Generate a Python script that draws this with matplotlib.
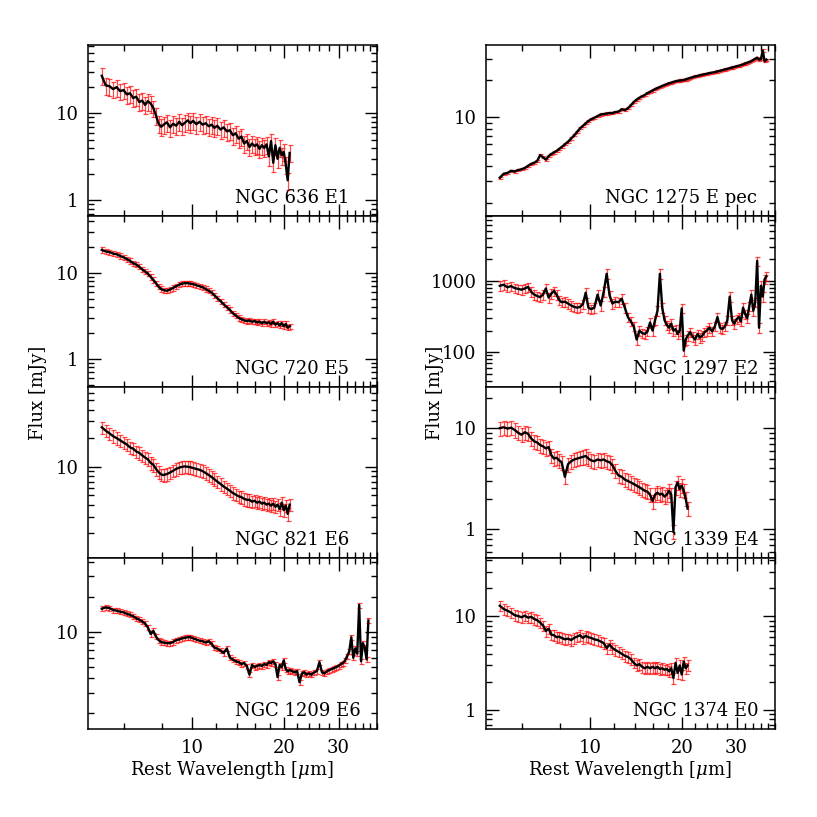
import matplotlib.pyplot as plt
from matplotlib.ticker import LogLocator, MultipleLocator, FixedLocator, FuncFormatter, NullFormatter

plt.rcParams['font.family'] = 'DejaVu Serif'
plt.rcParams['mathtext.fontset'] = 'dejavuserif'

# wavelength grids [micron]
wave_short = [5.1, 5.25, 5.4, 5.55, 5.7, 5.85, 6.0, 6.15, 6.3, 6.45, 6.6, 6.75, 6.9, 7.05,
              7.2, 7.35, 7.5, 7.65, 7.8, 7.95, 8.1, 8.3, 8.5, 8.7, 8.9, 9.1, 9.3, 9.5, 9.7,
              9.9, 10.1, 10.35, 10.6, 10.85, 11.1, 11.35, 11.6, 11.85, 12.1, 12.4, 12.7,
              13.0, 13.3, 13.6, 13.9, 14.2, 14.5, 14.8, 15.1, 15.4, 15.7, 16.0, 16.3, 16.6,
              16.9, 17.2, 17.5, 17.8, 18.1, 18.4, 18.7, 19.0, 19.3, 19.6, 19.9, 20.2, 20.5,
              20.8]
wave_ll_ext = [21.2, 21.6, 22.0, 22.4, 22.8, 23.2, 23.6, 24.0, 24.5, 25.0, 25.5, 26.0,
               26.5, 27.0, 27.5, 28.0, 28.5, 29.0, 29.5, 30.0, 30.5, 31.0, 31.5, 32.0,
               32.5, 33.0, 33.5, 34.0, 34.5, 35.0, 35.5, 36.0, 36.5, 37.0, 37.5]
wave_long = wave_short + wave_ll_ext

# fluxes [mJy]
flux_636 = [27, 21, 20.5, 19, 20, 18, 18.5, 16.5, 17, 15, 15.5, 13.5, 14, 12.5, 13.8, 13,
            11.5, 9.5, 7.6, 7.0, 7.4, 7.9, 6.9, 7.6, 7.2, 8.0, 7.3, 7.8, 8.3, 7.7, 8.2,
            7.5, 8.0, 7.4, 7.7, 7.1, 7.4, 6.8, 7.2, 6.5, 6.9, 6.2, 6.4, 5.6, 5.9, 5.1, 5.4,
            4.5, 4.8, 4.1, 4.5, 4.2, 4.4, 3.9, 4.3, 4.0, 4.4, 3.2, 4.8, 2.7, 4.3, 3.0, 4.0,
            3.3, 3.6, 2.6, 1.7, 3.5]
flux_720 = [18.5, 17.8, 17.5, 16.8, 16.5, 15.8, 15.2, 14.5, 13.8, 13.0, 12.5, 11.8, 11.0,
            10.4, 9.8, 9.0, 8.3, 7.6, 6.9, 6.5, 6.3, 6.2, 6.4, 6.7, 7.0, 7.3, 7.5, 7.6,
            7.6, 7.5, 7.4, 7.2, 7.0, 6.8, 6.5, 6.2, 5.9, 5.5, 5.1, 4.7, 4.3, 4.0, 3.7, 3.4,
            3.2, 3.0, 2.9, 2.8, 2.75, 2.8, 2.7, 2.75, 2.65, 2.7, 2.6, 2.7, 2.6, 2.65, 2.55,
            2.7, 2.5, 2.6, 2.45, 2.6, 2.4, 2.55, 2.3, 2.4]
flux_821 = [26, 24, 22.5, 21, 20, 19, 18, 17.2, 16, 15.5, 14.5, 14, 13.2, 12.5, 12, 11,
            10.5, 9.5, 8.8, 8.3, 8.2, 8.4, 8.7, 9.1, 9.5, 9.8, 10.0, 10.1, 10.0, 9.9, 9.7,
            9.5, 9.3, 9.0, 8.6, 8.2, 7.8, 7.4, 7.0, 6.6, 6.2, 5.9, 5.6, 5.3, 5.1, 4.9, 4.8,
            4.6, 4.5, 4.5, 4.3, 4.4, 4.2, 4.3, 4.1, 4.2, 4.0, 4.1, 3.9, 4.1, 3.8, 4.0, 3.6,
            4.2, 3.5, 3.9, 3.2, 4.0]
flux_1209 = [15.8, 16.2, 16.0, 15.4, 15.2, 14.9, 14.7, 14.3, 14.0, 13.6, 13.1, 12.7, 12.3,
             11.8, 10.9, 9.6, 10.2, 9.1, 8.5, 8.2, 8.1, 8.0, 8.0, 8.2, 8.5, 8.6, 8.8, 8.9,
             9.0, 9.0, 8.8, 8.6, 8.4, 8.3, 8.1, 8.3, 7.9, 7.3, 7.2, 6.9, 6.6, 7.2, 6.0, 5.8,
             5.6, 5.5, 5.3, 5.4, 5.1, 4.3, 5.2, 5.0, 5.1, 5.2, 5.1, 5.3, 5.2, 5.5, 5.4, 5.6,
             5.3, 4.1, 5.2, 5.0, 5.7, 4.8, 4.6, 4.7,
             4.6, 4.5, 4.6, 3.7, 4.4, 4.5, 4.3, 4.4, 4.3, 4.5, 4.6, 5.5, 4.5, 4.4, 4.6, 4.7,
             4.8, 4.9, 5.0, 5.1, 5.3, 5.4, 5.7, 6.2, 6.8, 9.0, 6.0, 7.2, 6.5, 17.0, 5.6,
             8.0, 7.3, 5.8, 12.5]
flux_1275 = [3.2, 3.45, 3.5, 3.65, 3.6, 3.7, 3.75, 3.85, 4.0, 4.15, 4.25, 4.4, 4.9, 4.7,
             4.5, 4.8, 5.0, 5.15, 5.3, 5.5, 5.7, 6.0, 6.3, 6.7, 7.1, 7.6, 8.1, 8.5, 8.9,
             9.3, 9.6, 9.9, 10.2, 10.5, 10.6, 10.7, 10.8, 10.8, 11.0, 11.1, 11.6, 11.4,
             11.8, 12.5, 13.3, 13.9, 14.4, 14.8, 15.2, 15.7, 16.1, 16.5, 16.9, 17.3, 17.6,
             18.0, 18.3, 18.6, 18.9, 19.1, 19.4, 19.6, 19.8, 19.9, 20.0, 20.1, 20.3, 20.6,
             20.9, 21.2, 21.5, 21.7, 22.0, 22.2, 22.4, 22.6, 22.9, 23.1, 23.3, 23.6, 23.9,
             24.2, 24.5, 24.8, 25.1, 25.4, 25.7, 26.0, 26.3, 26.6, 27.0, 27.4, 27.8, 28.2,
             28.6, 29.3, 30.0, 30.6, 29.5, 29.8, 35.0, 28.5, 29.5]
flux_1297 = [850, 880, 810, 840, 790, 770, 750, 780, 820, 700, 640, 610, 590, 640, 780, 580,
             660, 720, 640, 540, 500, 510, 480, 450, 430, 420, 430, 470, 680, 420, 400, 420,
             640, 450, 700, 1250, 620, 480, 510, 500, 560, 420, 310, 270, 230, 150, 200,
             185, 180, 195, 260, 200, 280, 380, 1250, 420, 280, 240, 220, 250, 200, 210,
             180, 200, 410, 105, 150, 170,
             190, 165, 150, 180, 160, 170, 190, 200, 220, 195, 230, 310, 220, 210, 230, 280,
             600, 280, 250, 290, 310, 270, 420, 340, 300, 440, 640, 380, 500, 1900, 220,
             850, 600, 1050, 1150]
flux_1339 = [10.0, 10.2, 9.9, 10.1, 9.6, 9.0, 8.6, 9.1, 8.8, 7.9, 7.4, 7.2, 6.8, 6.6, 6.3,
             6.5, 5.4, 5.0, 5.1, 4.8, 4.6, 3.3, 4.4, 4.7, 4.9, 5.0, 5.1, 5.2, 5.3, 5.0, 4.8,
             4.7, 4.9, 4.8, 4.9, 4.7, 4.6, 4.3, 3.8, 3.4, 3.3, 3.1, 3.0, 2.9, 2.8, 2.7, 2.6,
             2.5, 2.4, 2.35, 2.2, 1.9, 2.2, 2.3, 2.2, 2.25, 2.1, 2.2, 2.4, 2.2, 0.95, 2.6,
             2.9, 2.5, 2.7, 2.4, 2.0, 1.6]
flux_1374 = [13.0, 12.0, 11.5, 11.0, 10.3, 10.1, 9.8, 10.2, 9.7, 9.9, 9.4, 9.1, 8.6, 8.0,
             7.0, 7.4, 6.4, 6.3, 6.0, 6.1, 5.9, 5.7, 5.8, 5.6, 5.9, 6.1, 6.3, 5.9, 6.2, 6.0,
             5.9, 5.7, 5.6, 5.4, 5.2, 4.6, 5.0, 4.6, 4.4, 4.2, 4.0, 3.8, 3.7, 3.5, 3.2, 3.0,
             3.1, 2.9, 2.8, 2.9, 2.8, 2.9, 2.8, 2.9, 2.75, 2.8, 2.7, 2.75, 2.6, 2.8, 2.2,
             3.2, 2.5, 3.0, 2.4, 3.3, 2.8, 3.0]

# typical fractional uncertainty per spectrum
err_frac = {'636': 0.22, '720': 0.07, '821': 0.15, '1209': 0.05,
            '1275': 0.02, '1297': 0.15, '1339': 0.16, '1374': 0.13}

labels = {'636': 'NGC 636 E1', '720': 'NGC 720 E5', '821': 'NGC 821 E6',
          '1209': 'NGC 1209 E6', '1275': 'NGC 1275 E pec', '1297': 'NGC 1297 E2',
          '1339': 'NGC 1339 E4', '1374': 'NGC 1374 E0'}

spectra = {'636': (wave_short, flux_636), '720': (wave_short, flux_720),
           '821': (wave_short, flux_821), '1209': (wave_long, flux_1209),
           '1275': (wave_long, flux_1275), '1297': (wave_long, flux_1297),
           '1339': (wave_short, flux_1339), '1374': (wave_short, flux_1374)}

ylims = {'636': (0.66, 61), '720': (0.47, 46), '821': (1.1, 69), '1209': (1.47, 43),
         '1275': (1.56, 38.8), '1297': (32.5, 8070), '1339': (0.52, 25.5),
         '1374': (0.63, 42)}

columns = [['636', '720', '821', '1209'], ['1275', '1297', '1339', '1374']]

W = 817.0
fig = plt.figure(figsize=(8.17, 8.17), dpi=100)

col_left = [88 / W, 486 / W]
ax_w = 289 / W
ax_h = 171 / W
row_top = [45, 216, 387, 558]


def int_fmt(v, pos):
    return '%d' % round(v) if v >= 1 else '%g' % v


for c, names in enumerate(columns):
    for r, key in enumerate(names):
        bottom = 1 - (row_top[r] + 171) / W
        ax = fig.add_axes([col_left[c], bottom, ax_w, ax_h])
        wave, flux = spectra[key]
        err = [f * err_frac[key] for f in flux]
        ax.errorbar(wave, flux, yerr=err, fmt='none', ecolor='red', elinewidth=0.9,
                    capsize=1.8, capthick=0.9, alpha=0.7, zorder=2)
        ax.plot(wave, flux, color='black', lw=1.7, zorder=3)
        ax.set_xscale('log')
        ax.set_yscale('log')
        ax.set_xlim(4.6, 40)
        ax.set_ylim(*ylims[key])

        ax.xaxis.set_major_locator(FixedLocator([10, 20, 30]))
        ax.xaxis.set_minor_locator(MultipleLocator(2))
        ax.xaxis.set_minor_formatter(NullFormatter())
        ax.yaxis.set_major_locator(LogLocator(base=10))
        ax.yaxis.set_minor_locator(LogLocator(base=10, subs=range(2, 10)))
        ax.yaxis.set_minor_formatter(NullFormatter())
        ax.yaxis.set_major_formatter(FuncFormatter(int_fmt))
        if r == 3:
            ax.xaxis.set_major_formatter(FuncFormatter(int_fmt))
        else:
            ax.xaxis.set_major_formatter(NullFormatter())

        ax.tick_params(which='both', direction='in', top=True, right=True,
                       labelsize=13, width=1.0, pad=7)
        ax.tick_params(which='major', length=9)
        ax.tick_params(which='minor', length=4.5)
        for sp in ax.spines.values():
            sp.set_linewidth(1.1)

        tx = 0.412 if key == '1275' else 0.509
        ax.text(tx, 0.076, labels[key], transform=ax.transAxes, fontsize=13,
                ha='left', va='baseline')

# axis titles
for cx, fx in [(232 / W, 38 / W), (630 / W, 435 / W)]:
    fig.text(cx, 1 - 770 / W, r'Rest Wavelength [$\mu$m]', fontsize=13,
             ha='center', va='center')
    fig.text(fx, 1 - 393 / W, 'Flux [mJy]', fontsize=13, rotation=90,
             ha='center', va='center')

fig.savefig('out.png', dpi=100)
